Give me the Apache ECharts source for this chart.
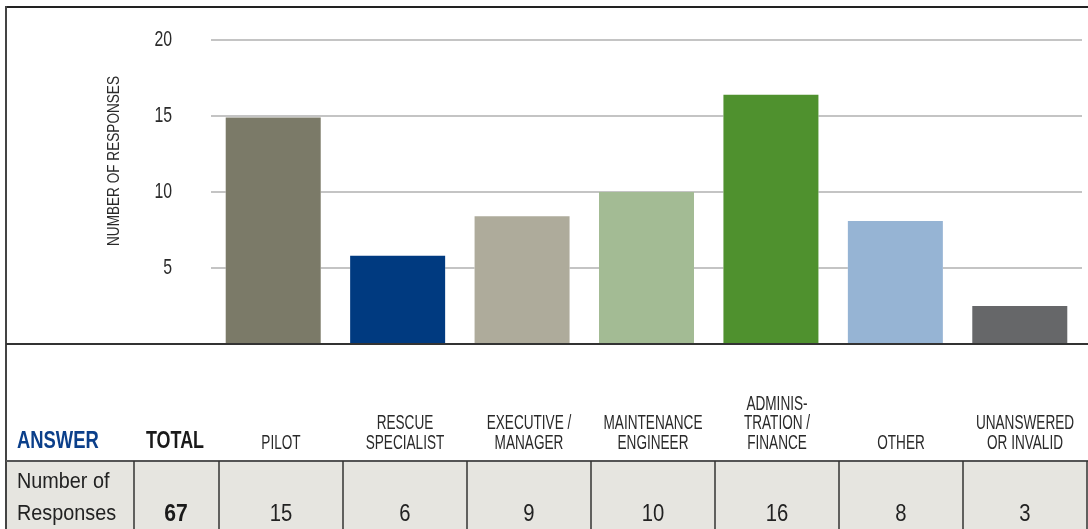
<!DOCTYPE html>
<html>
<head>
<meta charset="utf-8">
<script src="https://cdn.jsdelivr.net/npm/echarts@6/dist/echarts.min.js"></script>
<style>
html,body{margin:0;padding:0;background:#fff;}
#chart{width:1088px;height:529px;}
</style>
</head>
<body>
<div id="chart"></div>
<script>
// ---- data ----
const categories = ['PILOT', 'RESCUE\nSPECIALIST', 'EXECUTIVE /\nMANAGER', 'MAINTENANCE\nENGINEER', 'ADMINIS-\nTRATION /\nFINANCE', 'OTHER', 'UNANSWERED\nOR INVALID'];
const barValues = [14.9, 5.8, 8.4, 10.0, 16.4, 8.1, 2.5];
const tableValues = [15, 6, 9, 10, 16, 8, 3];
const totalValue = 67;
const barColors = ['#7b7a68', '#003a80', '#aeab9b', '#a3bb94', '#4f912e', '#96b4d4', '#666769'];
const yTicks = [0, 5, 10, 15, 20];
const yAxisTitle = 'NUMBER OF RESPONSES';
const answerLabel = 'ANSWER';
const totalLabel = 'TOTAL';
const rowLabel = 'Number of\nResponses';

const FONT = "'Liberation Sans', Arial, sans-serif";

const chart = echarts.init(document.getElementById('chart'), null, {renderer: 'canvas'});

chart.setOption({
  animation: false,
  backgroundColor: '#fff',
  grid: {left: 211, right: 6, top: 40, bottom: 185},
  xAxis: {
    type: 'category',
    data: categories,
    axisLine: {show: false},
    axisTick: {show: false},
    axisLabel: {show: false}
  },
  yAxis: {
    type: 'value',
    min: yTicks[0],
    max: yTicks[yTicks.length - 1],
    interval: yTicks[1] - yTicks[0],
    axisLine: {show: false},
    axisTick: {show: false},
    axisLabel: {show: false},
    splitLine: {lineStyle: {color: '#c4c4c4', width: 2}}
  },
  series: [{
    // white halo behind bars (gaps in gridlines)
    type: 'bar',
    data: barValues,
    barWidth: 95,
    barGap: '-100%',
    silent: true,
    itemStyle: {color: '#fff', borderColor: '#fff', borderWidth: 6}
  }, {
    type: 'bar',
    data: barValues.map((v, i) => ({value: v, itemStyle: {color: barColors[i]}})),
    barWidth: 95,
    barGap: '-100%'
  }]
});

// table layout
const colX0 = 219, colW = 124;
const seps = [134, 219];
for (let i = 1; i <= categories.length; i++) seps.push(colX0 + colW * i);

const graphics = [];
// y tick labels from the axis scale
yTicks.forEach(v => {
  if (v === 0) return;
  const py = chart.convertToPixel({yAxisIndex: 0}, v);
  graphics.push({type: 'text', z: 20, x: 172, y: py, scaleX: 0.72,
    style: {text: String(v), fill: '#2a2a2a', fontSize: 22, fontFamily: FONT, align: 'right', verticalAlign: 'middle'}});
});
// grey row
graphics.push({type: 'rect', z: 10, shape: {x: 6, y: 461, width: 1082, height: 68}, style: {fill: '#e6e5e0'}});
// lines
graphics.push({type: 'line', z: 20, shape: {x1: 6, y1: 7, x2: 1088, y2: 7}, style: {stroke: '#222', lineWidth: 2}});
graphics.push({type: 'line', z: 20, shape: {x1: 6, y1: 6, x2: 6, y2: 529}, style: {stroke: '#444', lineWidth: 2}});
graphics.push({type: 'line', z: 20, shape: {x1: 6, y1: 344, x2: 1088, y2: 344}, style: {stroke: '#333', lineWidth: 2}});
graphics.push({type: 'line', z: 20, shape: {x1: 6, y1: 461, x2: 1088, y2: 461}, style: {stroke: '#555', lineWidth: 2}});
seps.forEach(x => {
  if (x < 1088) graphics.push({type: 'line', z: 20, shape: {x1: x, y1: 461, x2: x, y2: 529}, style: {stroke: '#333', lineWidth: 1.5}});
});
// y axis title
graphics.push({type: 'text', z: 20, x: 114.5, y: 161, rotation: Math.PI / 2, scaleX: 0.8,
  style: {text: yAxisTitle, fill: '#2a2a2a', fontSize: 17, fontFamily: FONT, align: 'center', verticalAlign: 'middle'}});
// header texts
graphics.push({type: 'text', z: 20, x: 17, y: 442, scaleX: 0.8,
  style: {text: answerLabel, fill: '#0b3f8a', fontSize: 23, fontWeight: 'bold', fontFamily: FONT, align: 'left', verticalAlign: 'middle'}});
graphics.push({type: 'text', z: 20, x: 175, y: 442, scaleX: 0.78,
  style: {text: totalLabel, fill: '#1a1a1a', fontSize: 23, fontWeight: 'bold', fontFamily: FONT, align: 'center', verticalAlign: 'middle'}});
categories.forEach((c, i) => {
  graphics.push({type: 'text', z: 20, x: colX0 + colW * i + colW / 2, y: 453, scaleX: 0.68,
    style: {text: c, fill: '#2a2a2a', fontSize: 20, lineHeight: 19.5, fontFamily: FONT, align: 'center', verticalAlign: 'bottom'}});
});
// row texts
graphics.push({type: 'text', z: 20, x: 17, y: 498, scaleX: 0.9,
  style: {text: rowLabel, fill: '#222', fontSize: 22, lineHeight: 32, fontFamily: FONT, align: 'left', verticalAlign: 'middle'}});
graphics.push({type: 'text', z: 20, x: 176, y: 515, scaleX: 0.92,
  style: {text: String(totalValue), fill: '#1a1a1a', fontSize: 23, fontWeight: 'bold', fontFamily: FONT, align: 'center', verticalAlign: 'middle'}});
tableValues.forEach((v, i) => {
  graphics.push({type: 'text', z: 20, x: colX0 + colW * i + colW / 2, y: 515, scaleX: 0.88,
    style: {text: String(v), fill: '#222', fontSize: 23, fontFamily: FONT, align: 'center', verticalAlign: 'middle'}});
});

chart.setOption({graphic: graphics});
</script>
</body>
</html>
